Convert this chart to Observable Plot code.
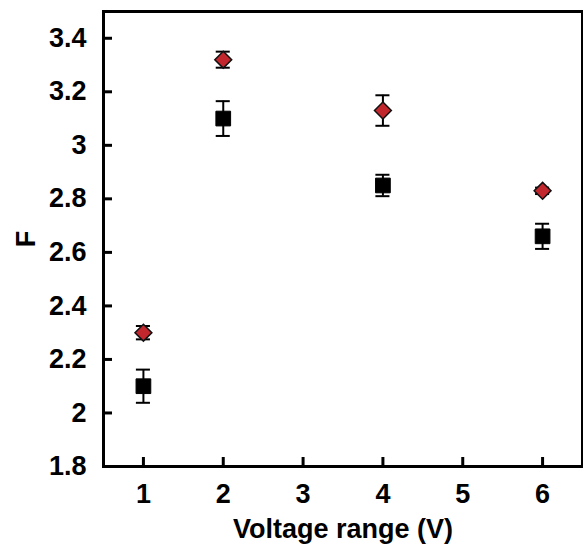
<!DOCTYPE html>
<html>
<head>
<meta charset="utf-8">
<script src="https://cdn.jsdelivr.net/npm/d3@7"></script>
<script src="https://cdn.jsdelivr.net/npm/@observablehq/plot@0.6"></script>
<style>
  html, body { margin: 0; padding: 0; background: #fff; }
</style>
</head>
<body>
<div id="chart"></div>
<script>
const voltages = [1, 2, 4, 6];
const fDiamond = [2.30, 3.32, 3.13, 2.83];
const errDiamond = [0.025, 0.03, 0.057, 0.012];
const fSquare = [2.10, 3.10, 2.85, 2.66];
const errSquare = [0.062, 0.065, 0.04, 0.047];
const xTicks = [1, 2, 3, 4, 5, 6];
const yTicks = [1.8, 2, 2.2, 2.4, 2.6, 2.8, 3, 3.2, 3.4];

const diamonds = voltages.map((v, i) => ({x: v, y: fDiamond[i], e: errDiamond[i]}));
const squares = voltages.map((v, i) => ({x: v, y: fSquare[i], e: errSquare[i]}));
const capHalf = 0.088;

function errorMarks(data) {
  return [
    Plot.ruleX(data, {x: "x", y1: d => d.y - d.e, y2: d => d.y + d.e, stroke: "#000", strokeWidth: 2}),
    Plot.ruleY(data, {y: d => d.y + d.e, x1: d => d.x - capHalf, x2: d => d.x + capHalf, stroke: "#000", strokeWidth: 2}),
    Plot.ruleY(data, {y: d => d.y - d.e, x1: d => d.x - capHalf, x2: d => d.x + capHalf, stroke: "#000", strokeWidth: 2})
  ];
}

const chart = Plot.plot({
  width: 583,
  height: 546,
  marginLeft: 103,
  marginRight: 1,
  marginTop: 11,
  marginBottom: 80,
  style: {fontFamily: "'Liberation Sans', Arial, Helvetica, sans-serif", fontWeight: "bold", color: "#000", background: "#fff"},
  x: {domain: [0.5, 6.5]},
  y: {domain: [1.8, 3.5]},
  marks: [
    Plot.axisX({ticks: xTicks, tickSize: -9, tickPadding: 26, tickFormat: d => String(d), fontSize: 27, strokeWidth: 3,
      label: "Voltage range (V)", labelAnchor: "center", labelArrow: "none", labelOffset: 71}),
    Plot.axisY({ticks: yTicks, tickSize: -9, tickPadding: 26, tickFormat: d => String(d), fontSize: 27, strokeWidth: 3,
      label: "F", labelAnchor: "center", labelArrow: "none", labelOffset: 88}),
    Plot.frame({stroke: "#000", strokeWidth: 3}),
    ...errorMarks(squares),
    ...errorMarks(diamonds),
    Plot.dot(squares, {x: "x", y: "y", symbol: "square", r: 8.3, fill: "#000", stroke: "#000", strokeWidth: 1}),
    Plot.dot(diamonds, {x: "x", y: "y", symbol: "diamond2", r: 7.6, fill: "#c1272d", stroke: "#111", strokeWidth: 1.5})
  ]
});
document.getElementById("chart").appendChild(chart);
</script>
</body>
</html>
